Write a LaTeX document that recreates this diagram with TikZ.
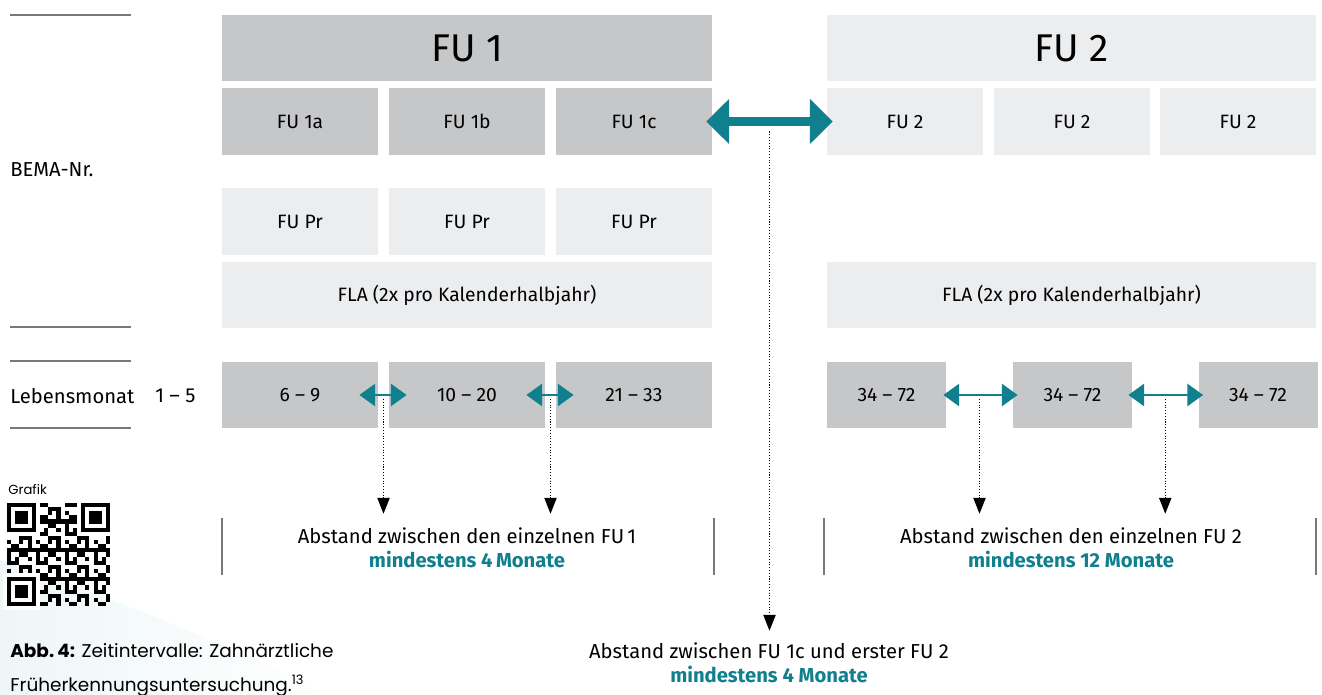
\documentclass[tikz,border=0pt]{standalone}
\usepackage{fontspec}
\setmainfont{Fira Sans}
\newfontfamily\capfont{Poppins}
\usetikzlibrary{arrows.meta,calc}
\definecolor{boxdark}{RGB}{198,199,201}
\definecolor{boxlight}{RGB}{236,237,239}
\definecolor{tealfu}{RGB}{17,128,142}
\definecolor{rulegray}{RGB}{120,120,120}
\tikzset{
  darkbox/.style={fill=boxdark,minimum width=3.12cm,minimum height=1.33cm,inner sep=0pt,font=\fontsize{11}{12}\selectfont},
  lightbox/.style={darkbox,fill=boxlight},
  widebox/.style={minimum width=9.8cm},
  bigarr/.style={draw=tealfu,line width=5pt,{Triangle[width=25pt,length=13pt]}-{Triangle[width=25pt,length=13pt]}},
  smallarr/.style={draw=tealfu,line width=1.7pt,{Triangle[width=12.5pt,length=9pt]}-{Triangle[width=12.5pt,length=9pt]}},
  dotarr/.style={densely dotted,line width=0.6pt,-{Triangle[width=7pt,length=9pt]}},
  note/.style={align=center,font=\fontsize{11.5}{13.7}\selectfont},
  sidelabel/.style={anchor=west,inner sep=0pt,font=\fontsize{11.5}{13}\selectfont},
  siderule/.style={draw=rulegray,line width=0.8pt},
  bar/.style={draw=rulegray,line width=0.8pt}
}

\begin{document}
\begin{tikzpicture}[x=0.02cm,y=-0.02cm]
    \useasboundingbox (0,0) rectangle (1322,695);
    \shade[left color=tealfu!7,right color=white] (0,560) .. controls (120,600) and (240,650) .. (330,695) -- (0,695) -- cycle;

    % left column
    \draw[siderule] (10,15) -- (131,15);
    \draw[siderule] (10,327) -- (131,327);
    \draw[siderule] (10,361) -- (131,361);
    \draw[siderule] (10,428) -- (131,428);
    \node[sidelabel] (bema) at (10,170) {BEMA-Nr.};
    \node[sidelabel] (leben) at (10,396) {Lebensmonat};
    \node[sidelabel] (m15) at (155,396) {1 -- 5};

    % FU 1
    \node[darkbox,widebox,font=\fontsize{22}{24}\selectfont] (fu1) at (467,48) {FU 1};
    \node[darkbox] (fu1a) at (300,121.5) {FU 1a};
    \node[darkbox] (fu1b) at (467,121.5) {FU 1b};
    \node[darkbox] (fu1c) at (634,121.5) {FU 1c};
    \node[lightbox] (pr1) at (300,221.5) {FU Pr};
    \node[lightbox] (pr2) at (467,221.5) {FU Pr};
    \node[lightbox] (pr3) at (634,221.5) {FU Pr};
    \node[lightbox,widebox] (fla1) at (467,295) {FLA (2x pro Kalenderhalbjahr)};
    \node[darkbox] (m69) at (300,395) {6 -- 9};
    \node[darkbox] (m1020) at (467,395) {10 -- 20};
    \node[darkbox] (m2133) at (634,395) {21 -- 33};

    % FU 2
    \node[lightbox,widebox,font=\fontsize{22}{24}\selectfont] (fu2) at (1071.5,48) {FU 2};
    \node[lightbox] (fu2a) at (905,121.5) {FU 2};
    \node[lightbox] (fu2b) at (1072,121.5) {FU 2};
    \node[lightbox] (fu2c) at (1238,121.5) {FU 2};
    \node[lightbox,widebox] (fla2) at (1071.5,295) {FLA (2x pro Kalenderhalbjahr)};
    \node[darkbox,minimum width=2.38cm] (ma) at (886.5,395) {34 -- 72};
    \node[darkbox,minimum width=2.38cm] (mb) at (1072.5,395) {34 -- 72};
    \node[darkbox,minimum width=2.38cm] (mc) at (1258,395) {34 -- 72};

    % notes
    \node[note] (n1) at (467,548) {Abstand zwischen den einzelnen FU\,1\\\textcolor{tealfu}{\bfseries mindestens 4\,Monate}};
    \node[note] (n2) at (1071,548) {Abstand zwischen den einzelnen FU 2\\\textcolor{tealfu}{\bfseries mindestens 12 Monate}};
    \node[note] (n3) at (769,663) {Abstand zwischen FU 1c und erster FU 2\\\textcolor{tealfu}{\bfseries mindestens 4 Monate}};
    \draw[bar] (222,518) -- (222,575);
    \draw[bar] (714,518) -- (714,575);
    \draw[bar] (824,518) -- (824,575);
    \draw[bar] (1316,518) -- (1316,575);

    % intervals
    \draw[bigarr,shorten <=-0.12cm,shorten >=-0.12cm] (fu1c.east) -- (fu2a.west);
    \draw[smallarr,shorten <=-0.38cm,shorten >=-0.36cm] (m69.east) -- (m1020.west);
    \draw[smallarr,shorten <=-0.38cm,shorten >=-0.36cm] (m1020.east) -- (m2133.west);
    \draw[smallarr,shorten <=-0.06cm,shorten >=-0.1cm] (ma.east) -- (mb.west);
    \draw[smallarr,shorten <=-0.08cm,shorten >=-0.1cm] (mb.east) -- (mc.west);
    \coordinate (g0) at ($(fu1c.east)!0.5!(fu2a.west)$);
    \coordinate (g1) at ($(m69.east)!0.5!(m1020.west)$);
    \coordinate (g2) at ($(m1020.east)!0.5!(m2133.west)$);
    \coordinate (g3) at ($(ma.east)!0.5!(mb.west)$);
    \coordinate (g4) at ($(mb.east)!0.5!(mc.west)$);
    \draw[dotarr] ([yshift=-0.2cm]g0) -- ([yshift=0.12cm]g0 |- n3.north);
    \draw[dotarr] ([yshift=-0.08cm]g1) -- ([yshift=0.16cm]g1 |- n1.north);
    \draw[dotarr] ([yshift=-0.08cm]g2) -- ([yshift=0.16cm]g2 |- n1.north);
    \draw[dotarr] ([yshift=-0.08cm]g3) -- ([yshift=0.16cm]g3 |- n2.north);
    \draw[dotarr] ([yshift=-0.08cm]g4) -- ([yshift=0.16cm]g4 |- n2.north);

    % QR code and caption
    \node[anchor=west,inner sep=0pt,font=\capfont\fontsize{7.5}{9}\selectfont] (grafik) at (8,490) {Grafik};
    \foreach \i in {0,...,24}
      \foreach \j in {0,...,24} {
        \pgfmathtruncatemacro\q{mod(\i*\i*7+\j*\j*3+\i*\j*5+\i+2*\j,7)}
        \ifnum\q<3 \fill (7+\i*4.12,503+\j*4.12) rectangle ++(4.12,4.12); \fi
      }
    \foreach \fx/\fy in {0/0,18/0,0/18} {
      \fill[white] (7+\fx*4.12-4.12,503+\fy*4.12-4.12) rectangle ++(9*4.12,9*4.12);
      \fill (7+\fx*4.12,503+\fy*4.12) rectangle ++(7*4.12,7*4.12);
      \fill[white] (7+\fx*4.12+4.12,503+\fy*4.12+4.12) rectangle ++(5*4.12,5*4.12);
      \fill (7+\fx*4.12+8.24,503+\fy*4.12+8.24) rectangle ++(3*4.12,3*4.12);
    }
    \node[anchor=base west,inner sep=0pt,align=left,font=\capfont\fontsize{10.5}{18.8}\selectfont] (caption) at (10,691)
      {\textbf{Abb.\,4:} Zeitintervalle: Zahnärztliche\\Früherkennungsuntersuchung.\textsuperscript{13}};
\end{tikzpicture}
\end{document}
